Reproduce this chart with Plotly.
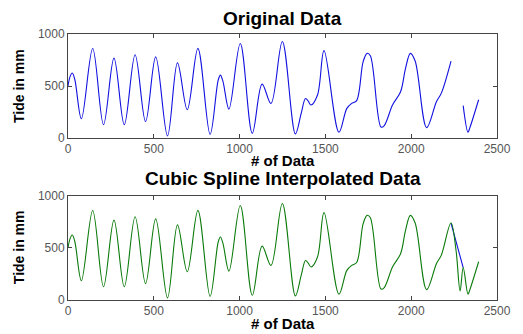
import plotly.graph_objects as go
from plotly.subplots import make_subplots

# Recorded tide readings (sample index, level in mm); a gap in the record
# separates the two segments.
seg1_idx = [0, 12, 25, 40, 78, 144, 207, 268, 328, 391, 452, 511, 580, 638,
            695, 757, 828, 875, 888, 903, 938, 1004, 1074, 1131, 1183, 1249,
            1325, 1359, 1384, 1400, 1416, 1454, 1492, 1579, 1625, 1653, 1682,
            1720, 1743, 1762, 1824, 1843, 1891, 1938, 1967, 1995, 2023, 2090,
            2147, 2175, 2232]
seg1_mm = [500, 590, 625, 560, 185, 860, 128, 768, 128, 800, 158, 780, 20, 722,
           272, 862, 35, 555, 605, 545, 278, 908, 45, 518, 332, 928,
           40, 237, 380, 355, 317, 413, 840, 55, 285, 333, 360,
           734, 814, 790, 105, 120, 317, 445, 670, 814, 740, 100,
           349, 429, 740]
seg2_idx = [2303, 2331, 2341, 2393]
seg2_mm = [311, 55, 95, 368]

# Cubic-spline estimate across the missing stretch
gap_idx = [2261, 2285]
gap_mm = [481, 87]

orig_x = seg1_idx + [None] + seg2_idx
orig_y = seg1_mm + [None] + seg2_mm
# straight join across the gap, drawn beneath the spline
bridge_x = [seg1_idx[-1], seg2_idx[0]]
bridge_y = [seg1_mm[-1], seg2_mm[0]]
spline_x = seg1_idx + gap_idx + seg2_idx
spline_y = seg1_mm + gap_mm + seg2_mm

x_ticks = [0, 500, 1000, 1500, 2000, 2500]
y_ticks = [0, 500, 1000]

BLUE = "#1010e0"
GREEN = "#0a7a0a"

fig = make_subplots(rows=2, cols=1, vertical_spacing=0.218)

fig.add_trace(go.Scatter(x=orig_x, y=orig_y, mode="lines",
                         line=dict(color=BLUE, width=1.1, shape="spline", smoothing=1.0),
                         connectgaps=False, showlegend=False), row=1, col=1)
fig.add_trace(go.Scatter(x=bridge_x, y=bridge_y, mode="lines",
                         line=dict(color=BLUE, width=1.1),
                         showlegend=False), row=2, col=1)
fig.add_trace(go.Scatter(x=spline_x, y=spline_y, mode="lines",
                         line=dict(color=GREEN, width=1.1, shape="spline", smoothing=1.0),
                         showlegend=False), row=2, col=1)

axis_common = dict(showgrid=False, zeroline=False, showline=True, mirror="ticks",
                   linecolor="#444", linewidth=1, ticks="inside", ticklen=4,
                   tickcolor="#444",
                   tickfont=dict(family="Liberation Sans, Arial", size=12, color="#555"))

for r in (1, 2):
    fig.update_xaxes(range=[0, 2500], tickvals=x_ticks, ticktext=[str(v) for v in x_ticks],
                     row=r, col=1, **axis_common)
    fig.update_yaxes(range=[0, 1000], tickvals=y_ticks, ticktext=[str(v) for v in y_ticks],
                     row=r, col=1, **axis_common)

fig.update_layout(
    yaxis=dict(domain=[0.609, 1.0]),
    yaxis2=dict(domain=[0.0, 0.391]),
    width=523, height=334,
    margin=dict(l=68, r=16, t=34, b=34),
    plot_bgcolor="white", paper_bgcolor="white",
)

bold = dict(family="Liberation Sans, Arial", color="black")
texts = [
    ("Original Data", 0.5, 1.058, 19),
    ("Cubic Spline Interpolated Data", 0.5, 0.458, 19),
    ("# of Data", 0.5, 0.525, 15),
    ("# of Data", 0.5, -0.088, 15),
]
for t, x, y, s in texts:
    fig.add_annotation(text=f"<b>{t}</b>", x=x, y=y, xref="paper", yref="paper",
                       showarrow=False, xanchor="center", yanchor="middle",
                       font=dict(size=s, **bold))
for y in (0.805, 0.199):
    fig.add_annotation(text="<b>Tide in mm</b>", x=-0.114, y=y, xref="paper", yref="paper",
                       showarrow=False, textangle=-90, xanchor="center", yanchor="middle",
                       font=dict(size=14, **bold))

fig.write_html("out.html")
